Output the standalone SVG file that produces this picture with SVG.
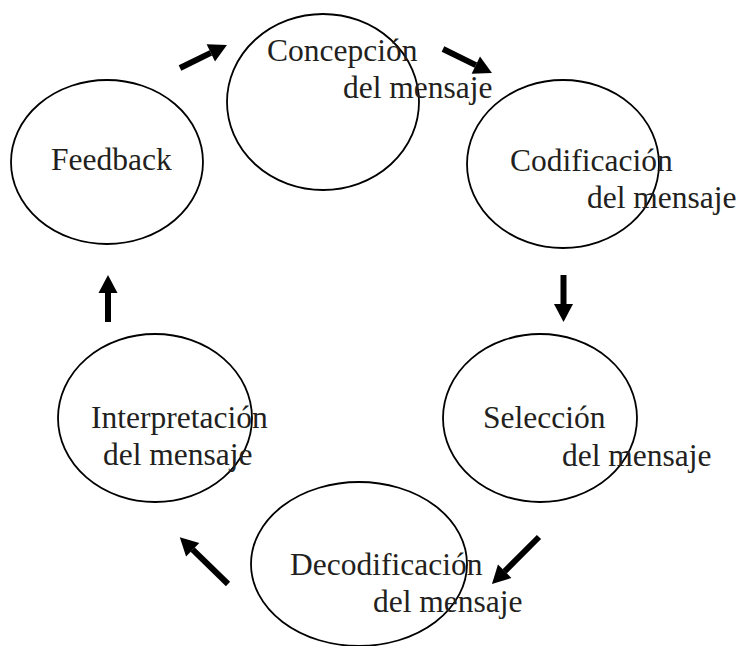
<svg xmlns="http://www.w3.org/2000/svg" width="741" height="646" viewBox="0 0 741 646">
<style>
.n{fill:none;stroke:#000;stroke-width:1.8}
.t{font-family:"Liberation Serif","Times New Roman",serif;font-size:31.5px;fill:#231f20}
.a{stroke:#000;stroke-width:6;fill:none;marker-end:url(#h)}
</style>
<defs>
<marker id="h" markerUnits="userSpaceOnUse" markerWidth="20" markerHeight="20" viewBox="0 -10 18 20" refX="0" refY="0" orient="auto">
<path d="M0,-9.5 L18,0 L0,9.5 Z" fill="#000"/>
</marker>
</defs>
<rect width="741" height="646" fill="#fff"/>
<g id="concepcion">
<ellipse class="n" cx="323" cy="102" rx="96" ry="88"/>
<text class="t" x="267" y="61">Concepción</text>
<text class="t" x="343" y="98">del mensaje</text>
</g>
<g id="codificacion">
<ellipse class="n" cx="563" cy="164" rx="96" ry="84"/>
<text class="t" x="510" y="171">Codificación</text>
<text class="t" x="587" y="208">del mensaje</text>
</g>
<g id="seleccion">
<ellipse class="n" cx="540" cy="418" rx="97" ry="84"/>
<text class="t" x="483" y="428">Selección</text>
<text class="t" x="562" y="466">del mensaje</text>
</g>
<g id="decodificacion">
<ellipse class="n" cx="359" cy="564" rx="108" ry="82"/>
<text class="t" x="290" y="575">Decodificación</text>
<text class="t" x="373" y="612">del mensaje</text>
</g>
<g id="interpretacion">
<ellipse class="n" cx="155" cy="418" rx="97" ry="84"/>
<text class="t" x="91" y="428">Interpretación</text>
<text class="t" x="103" y="465">del mensaje</text>
</g>
<g id="feedback">
<ellipse class="n" cx="107" cy="162" rx="96" ry="82"/>
<text class="t" x="51" y="170">Feedback</text>
</g>
<g id="connectors">
<line class="a" x1="180" y1="68" x2="210.8" y2="52.9"/>
<line class="a" x1="443" y1="49" x2="475.8" y2="65.1"/>
<line class="a" x1="563.5" y1="275" x2="563.5" y2="304"/>
<line class="a" x1="539" y1="537" x2="504.7" y2="571.3"/>
<line class="a" x1="228" y1="584" x2="192.7" y2="549.7"/>
<line class="a" x1="108" y1="322" x2="108" y2="293"/>
</g>
</svg>
